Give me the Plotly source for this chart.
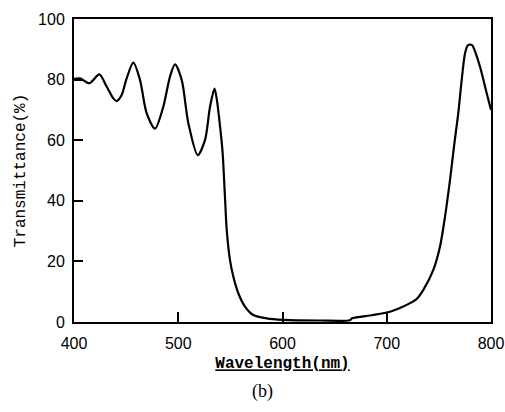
import plotly.graph_objects as go

wavelength = [400, 405.8, 414.7, 424.3, 431.3, 437.7, 441.0, 445.7, 450.5, 456.9,
              463.3, 469.7, 477.7, 485.7, 492.1, 496.9, 503.3, 509.7, 518.7, 525.7,
              530.5, 534.8, 537.2, 539.4, 541.2, 542.6, 544.8, 546.5, 549.6, 552.8,
              557.6, 564.0, 572.0, 584.8, 600.5, 636.0, 664.7, 666.7, 686.8, 703.1,
              712.7, 720.5, 728.7, 735.1, 744.7, 751.1, 755.9, 760.7, 764.5, 768.6,
              771.9, 775.1, 777.9, 781.8, 785.5, 789.4, 795.9, 800]
transmittance = [80.2, 80.4, 78.8, 81.7, 77.7, 73.8, 72.9, 74.9, 80.4, 85.6,
                 79.9, 68.9, 63.8, 71.1, 81.0, 85.0, 79.9, 65.6, 55.1, 60.1,
                 71.1, 77.0, 73.0, 66.7, 61.0, 55.7, 41.4, 30.4, 20.5, 15.0,
                 9.5, 5.1, 2.3, 1.2, 0.7, 0.5, 0.6, 1.2, 2.3, 3.4,
                 4.6, 5.9, 7.6, 10.6, 17.2, 24.9, 34.8, 46.9, 57.9, 68.9,
                 79.9, 88.7, 91.4, 91.4, 88.5, 84.3, 75.5, 70.0]

x_ticks = [400, 500, 600, 700, 800]
y_ticks = [0, 20, 40, 60, 80, 100]

fig = go.Figure()
fig.add_trace(go.Scatter(x=wavelength, y=transmittance, mode="lines",
                         line=dict(color="black", width=2.2, shape="spline", smoothing=0.8),
                         showlegend=False, hoverinfo="skip"))

axis_common = dict(showline=True, linecolor="black", linewidth=2, mirror=True,
                   showgrid=False, zeroline=False, ticks="inside", tickcolor="black",
                   tickwidth=1.5, automargin=False,
                   tickfont=dict(family="Liberation Sans, Arial, sans-serif", size=16, color="black"))

fig.update_xaxes(range=[400, 800], tickvals=x_ticks, ticklen=10, ticklabelstandoff=6,
                 title=dict(text="<b><u>Wavelength(nm)</u></b>",
                            font=dict(family="Liberation Mono, monospace", size=16, color="black"),
                            standoff=6),
                 **axis_common)
fig.update_yaxes(range=[0, 100], tickvals=y_ticks, ticklen=9, ticklabelstandoff=4,
                 title=dict(text="Transmittance(%)",
                            font=dict(family="Liberation Mono, monospace", size=16, color="black"),
                            standoff=8),
                 **axis_common)

fig.add_annotation(text="(b)", xref="paper", yref="paper", x=0.451, y=-0.231,
                   xanchor="center", yanchor="middle", showarrow=False,
                   font=dict(family="Liberation Serif, DejaVu Serif, serif", size=18, color="black"))

fig.update_layout(width=505, height=412, margin=dict(l=74, r=14, t=19, b=90),
                  plot_bgcolor="white", paper_bgcolor="white")

fig.write_html("out.html", config={"displayModeBar": False},
               post_script="document.body.style.margin='0';document.body.style.overflow='hidden';")
